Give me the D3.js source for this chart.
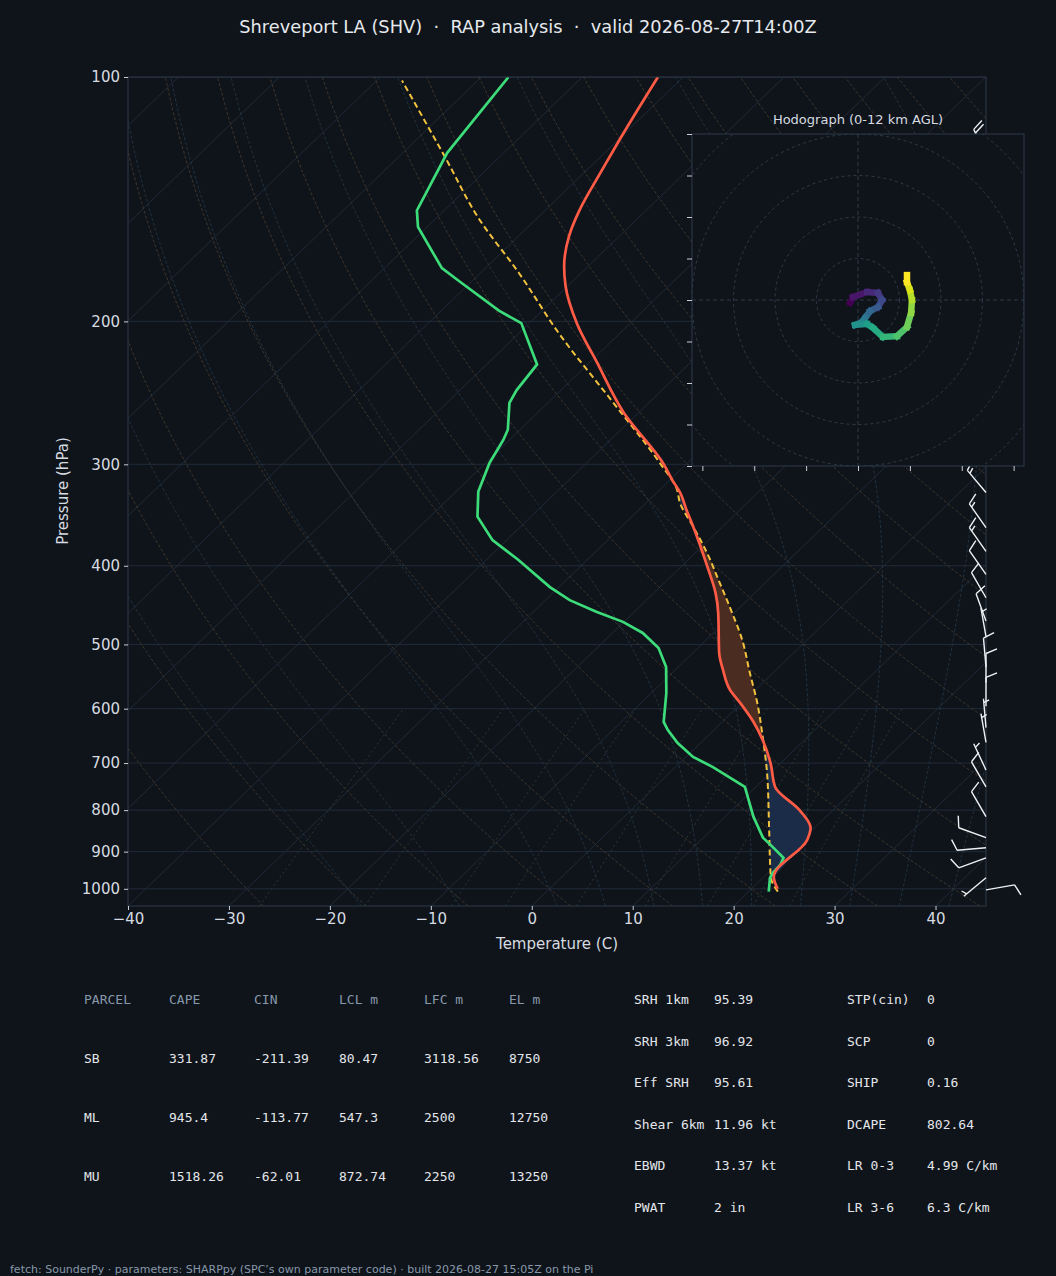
<!DOCTYPE html>
<html>
<head>
<meta charset="utf-8">
<script src="https://cdn.jsdelivr.net/npm/d3@7"></script>
<style>
  body { margin: 0; background: #0f141a; }
  svg { display: block; }
  text { font-family: "DejaVu Sans", sans-serif; }
  .mono { font-family: "DejaVu Sans Mono", monospace; font-size: 13px; white-space: pre; }
</style>
</head>
<body>
<svg id="chart" width="1056" height="1276"></svg>
<script>
// sounding (hPa, C)
const tempP = [1000, 967, 870, 841, 800, 749, 700, 655, 623, 590, 569, 537, 512, 457, 432, 401, 358, 342, 325, 314, 300, 259, 225, 201, 181, 171, 157, 146, 131, 120, 100];
const tempT = [22.6, 21.0, 20.5, 19.6, 16.7, 11.9, 9.0, 5.8, 3.1, -0.2, -2.5, -5.3, -7.4, -11.6, -13.9, -17.4, -22.9, -25.2, -27.7, -29.7, -32.2, -41.5, -49.2, -55.3, -60.2, -62.4, -65.0, -66.6, -68.4, -69.8, -72.5];

const dewP = [1008, 969, 956, 934, 916, 888, 865, 815, 749, 708, 688, 661, 637, 623, 574, 533, 505, 484, 469, 456, 441, 425, 393, 372, 348, 324, 299, 280, 272, 252, 243, 226, 201, 194, 179, 172, 153, 146, 124, 100];
const dewT = [22.0, 20.7, 20.5, 20.4, 20.0, 17.8, 15.9, 12.8, 8.9, 3.7, 0.7, -2.3, -4.6, -5.8, -8.5, -11.2, -13.9, -17.0, -20.1, -23.7, -27.6, -30.9, -36.9, -41.4, -45.3, -47.8, -49.6, -50.6, -51.2, -53.8, -54.4, -55.0, -60.8, -64.3, -71.0, -74.3, -80.9, -82.7, -85.6, -87.3];

const parcelP = [1008, 967, 839, 728, 643, 590, 542, 494, 450, 420, 386, 358, 335, 321, 300, 252, 207, 174, 150, 125, 101];
const parcelT = [22.9, 20.7, 15.4, 10.1, 5.1, 1.5, -2.3, -6.4, -11.0, -14.5, -18.8, -22.9, -26.6, -28.5, -32.5, -43.5, -56.0, -66.3, -75.5, -85.6, -97.5];

// wind barbs: pressure, direction from (deg), speed (kt)
const barbP = [1003, 969, 916, 890, 865, 815, 749, 714, 660, 633, 596, 557, 533, 489, 468, 438, 410, 384, 359, 325, 301, 250, 200, 150, 125];
const barbDir = [80, 230, 250, 265, 290, 330, 330, 335, 350, 355, 0, 0, 355, 350, 340, 330, 325, 325, 325, 320, 325, 330, 330, 335, 335];
const barbSpd = [10, 5, 10, 10, 10, 10, 10, 5, 5, 5, 10, 10, 10, 5, 10, 10, 10, 15, 15, 15, 15, 15, 15, 20, 20];

// hodograph (kt)
const hodoU = [-1.9, -1.2, 2.2, 4.8, 5.8, 4.8, 2.9, 1.7, 1.0, -0.7, 2.2, 3.6, 6.0, 9.4, 11.8, 12.8, 13.0, 12.5, 11.8, 11.8];
const hodoV = [-0.7, 0.7, 1.9, 1.7, 0, -1.7, -2.7, -4.3, -5.3, -6.0, -5.8, -6.7, -8.9, -8.7, -6.5, -3.1, 0, 2.4, 4.3, 6.0];

const pTicks = [100, 200, 300, 400, 500, 600, 700, 800, 900, 1000];
const tTicks = [-40, -30, -20, -10, 0, 10, 20, 30, 40];

const parcelHeader = ['PARCEL', 'CAPE', 'CIN', 'LCL m', 'LFC m', 'EL m'];
const parcelRows = [
  ['SB', '331.87', '-211.39', '80.47', '3118.56', '8750'],
  ['ML', '945.4', '-113.77', '547.3', '2500', '12750'],
  ['MU', '1518.26', '-62.01', '872.74', '2250', '13250']
];
const indexLeft = [['SRH 1km', '95.39'], ['SRH 3km', '96.92'], ['Eff SRH', '95.61'], ['Shear 6km', '11.96 kt'], ['EBWD', '13.37 kt'], ['PWAT', '2 in']];
const indexRight = [['STP(cin)', '0'], ['SCP', '0'], ['SHIP', '0.16'], ['DCAPE', '802.64'], ['LR 0-3', '4.99 C/km'], ['LR 3-6', '6.3 C/km']];

const svg = d3.select('#chart');
const L = 128, R = 986, T = 77, B = 906;
const y = d3.scaleLog().domain([1050, 100]).range([B, T]);
const xT = d3.scaleLinear().domain([-40, 45]).range([L, R]);
const skew = (R - L) / (B - T);
const sx = (t, p) => xT(t) + (B - y(p)) * skew;

svg.append('rect').attr('width', 1056).attr('height', 1276).attr('fill', '#0f141a');

svg.append('text').attr('x', 528).attr('y', 33).attr('text-anchor', 'middle')
  .attr('fill', '#e6e9ee').attr('font-size', 17.8)
  .text('Shreveport LA (SHV)  ·  RAP analysis  ·  valid 2026-08-27T14:00Z')
  .style('white-space', 'pre');

svg.append('clipPath').attr('id', 'plot').append('rect')
  .attr('x', L).attr('y', T).attr('width', R - L).attr('height', B - T);
const g = svg.append('g').attr('clip-path', 'url(#plot)');

const line = d3.line().x(d => sx(d[1], d[0])).y(d => y(d[0]));
const smooth = d3.line().x(d => sx(d[1], d[0])).y(d => y(d[0])).curve(d3.curveMonotoneY);
const pGrid = d3.range(1050, 99, -10);

// isobars
g.selectAll('.isobar').data(pTicks).join('line')
  .attr('x1', L).attr('x2', R).attr('y1', d => y(d)).attr('y2', d => y(d))
  .attr('stroke', '#253141').attr('stroke-width', 0.8);

// isotherms
g.selectAll('.iso').data(d3.range(-120, 50, 10)).join('path')
  .attr('d', t => line([[1050, t], [100, t]]))
  .attr('stroke', '#233040').attr('stroke-width', 0.8).attr('fill', 'none');

// dry adiabats
g.selectAll('.dry').data(d3.range(-30, 200, 10)).join('path')
  .attr('d', th => line(pGrid.map(p => [p, (th + 273.15) * Math.pow(p / 1000, 0.2857) - 273.15])))
  .attr('stroke', '#4b3e2e').attr('stroke-width', 0.8).attr('stroke-dasharray', '3,2').attr('fill', 'none');

// moist adiabats
function moist(t0) {
  const out = [];
  const step = (tk, p, dp) => {
    const tc = tk - 273.15;
    const es = 6.112 * Math.exp(17.67 * tc / (tc + 243.5));
    const rs = 0.622 * es / (p - es);
    const num = 287 * tk + 2.5e6 * rs;
    const den = 1004 + 2.5e6 * 2.5e6 * rs * 0.622 / (287 * tk * tk);
    return tk + num / den / p * dp;
  };
  let tk = t0 + 273.15;
  for (let p = 1000; p > 100; p -= 5) { out.push([p, tk - 273.15]); tk = step(tk, p, -5); }
  out.push([100, tk - 273.15]);
  let tb = t0 + 273.15, lower = [];
  for (let p = 1000; p < 1050; p += 5) { tb = step(tb, p, 5); lower.push([p + 5, tb - 273.15]); }
  return lower.reverse().concat(out);
}
g.selectAll('.moist').data([-20, -10, 0, 5, 10, 15, 20, 25, 30, 35, 40]).join('path')
  .attr('d', t => line(moist(t)))
  .attr('stroke', '#24394a').attr('stroke-width', 0.8).attr('stroke-dasharray', '3,2').attr('fill', 'none');

// mixing ratio lines
const mixW = [0.4, 1, 2, 3, 5, 8, 12, 16, 20];
g.selectAll('.mix').data(mixW).join('path')
  .attr('d', w => line(d3.range(1050, 599, -10).map(p => {
    const e = w * p / (622 + w), a = Math.log(e / 6.112);
    return [p, 243.5 * a / (17.67 - a)];
  })))
  .attr('stroke', '#2a4436').attr('stroke-width', 0.8).attr('stroke-dasharray', '2,3').attr('fill', 'none');

// interpolation in log-p
function interp(ps, ts, q) {
  for (let i = 0; i < ps.length - 1; i++) {
    if (q <= ps[i] && q >= ps[i + 1]) {
      const f = (Math.log(ps[i]) - Math.log(q)) / (Math.log(ps[i]) - Math.log(ps[i + 1]));
      return ts[i] + f * (ts[i + 1] - ts[i]);
    }
  }
  return null;
}

// CAPE / CIN shading
const fillP = d3.range(1000, 329, -1);
let runs = [], cur = null;
fillP.forEach(p => {
  const a = interp(tempP, tempT, p), b = interp(parcelP, parcelT, p);
  const sign = b > a;
  if (!cur || cur.sign !== sign) {
    if (cur) cur.pts.push({ p, a, b });
    cur = { sign, pts: [] }; runs.push(cur);
  }
  cur.pts.push({ p, a, b });
});
const area = d3.area().y(d => y(d.p)).x0(d => sx(d.a, d.p)).x1(d => sx(d.b, d.p));
g.selectAll('.shade').data(runs).join('path')
  .attr('d', r => area(r.pts))
  .attr('fill', r => r.sign ? '#4e2d22' : '#1b2d4b').attr('opacity', 0.95);

// profiles
const prof = (ps, ts) => ps.map((p, i) => [p, ts[i]]);
g.append('path').attr('d', smooth(prof(parcelP, parcelT))).attr('fill', 'none')
  .attr('stroke', '#f2c23e').attr('stroke-width', 2).attr('stroke-dasharray', '6,3.5');
g.append('path').attr('d', line(prof(dewP, dewT))).attr('fill', 'none')
  .attr('stroke', '#3ddc7a').attr('stroke-width', 2.7);
g.append('path').attr('d', smooth(prof(tempP, tempT))).attr('fill', 'none')
  .attr('stroke', '#ff5b45').attr('stroke-width', 2.7);

// frame and axes
svg.append('rect').attr('x', L).attr('y', T).attr('width', R - L).attr('height', B - T)
  .attr('fill', 'none').attr('stroke', '#2e3a48');

const styleAxis = a => {
  a.select('.domain').remove();
  a.selectAll('line').attr('stroke', '#c8ced6');
  a.selectAll('text').attr('fill', '#d6dbe1').attr('font-size', 15)
    .attr('font-family', '"DejaVu Sans", sans-serif');
};
svg.append('g').attr('transform', `translate(0,${B})`)
  .call(d3.axisBottom(xT).tickValues(tTicks).tickSize(4).tickPadding(3))
  .call(styleAxis);
svg.append('g').attr('transform', `translate(${L},0)`)
  .call(d3.axisLeft(y).tickValues(pTicks).tickFormat(d3.format('d')).tickSize(4).tickPadding(4))
  .call(styleAxis);

svg.append('text').attr('x', 557).attr('y', 949).attr('text-anchor', 'middle')
  .attr('fill', '#d6dbe1').attr('font-size', 15).text('Temperature (C)');
svg.append('text').attr('transform', 'translate(68,491) rotate(-90)').attr('text-anchor', 'middle')
  .attr('fill', '#d6dbe1').attr('font-size', 15).text('Pressure (hPa)');

// wind barbs
const barbs = svg.append('g').attr('stroke', '#eef1f4').attr('stroke-width', 1.4).attr('fill', 'none');
barbP.forEach((p, i) => {
  const d = barbDir[i] * Math.PI / 180;
  const ux = Math.sin(d), uy = -Math.cos(d);
  const px = -uy, py = ux; // clockwise perpendicular on screen
  const x0 = R, y0 = y(p), len = 29;
  const tx = x0 + ux * len, ty = y0 + uy * len;
  let path = `M${x0},${y0}L${tx},${ty}`;
  let spd = barbSpd[i], k = 0;
  const feather = (frac, pos) => {
    const bx = tx - ux * pos, by = ty - uy * pos;
    const bl = 12 * frac;
    path += `M${bx},${by}L${bx + (px * 0.92 + ux * 0.38) * bl},${by + (py * 0.92 + uy * 0.38) * bl}`;
  };
  while (spd >= 10) { feather(1, k * 4); spd -= 10; k++; }
  if (spd >= 5) feather(0.5, (k === 0 ? 1 : k) * 4);
  barbs.append('path').attr('d', path);
});

// hodograph inset
const hx0 = 692, hy0 = 134, hs = 332, hc = [858, 300], ring = 41.5;
const hodo = svg.append('g');
hodo.append('rect').attr('x', hx0).attr('y', hy0).attr('width', hs).attr('height', hs)
  .attr('fill', '#0f141a').attr('stroke', '#2e3a48');
hodo.append('text').attr('x', 858).attr('y', 124).attr('text-anchor', 'middle')
  .attr('fill', '#d6dbe1').attr('font-size', 13).text('Hodograph (0-12 km AGL)');
hodo.append('clipPath').attr('id', 'hclip').append('rect')
  .attr('x', hx0).attr('y', hy0).attr('width', hs).attr('height', hs);
const hg = hodo.append('g').attr('clip-path', 'url(#hclip)');
hg.selectAll('circle').data([1, 2, 3, 4, 5]).join('circle')
  .attr('cx', hc[0]).attr('cy', hc[1]).attr('r', k => k * ring)
  .attr('fill', 'none').attr('stroke', '#2e3a48').attr('stroke-dasharray', '3,3');
hg.append('line').attr('x1', hx0).attr('x2', hx0 + hs).attr('y1', hc[1]).attr('y2', hc[1])
  .attr('stroke', '#2e3a48').attr('stroke-dasharray', '4,3');
hg.append('line').attr('y1', hy0).attr('y2', hy0 + hs).attr('x1', hc[0]).attr('x2', hc[0])
  .attr('stroke', '#2e3a48').attr('stroke-dasharray', '4,3');

const hv = d3.scaleLinear().domain([-40, 40]).range([hy0 + hs, hy0]);
const hxTick = d3.scaleLinear().domain([-32, 32]).range([hx0, hx0 + hs]);
hodo.append('g').attr('transform', `translate(${hx0},0)`)
  .call(d3.axisLeft(hv).tickValues(d3.range(-40, 41, 10)).tickSize(5).tickFormat(''))
  .call(a => { a.select('.domain').remove(); a.selectAll('line').attr('stroke', '#c8ced6'); });
hodo.append('g').attr('transform', `translate(0,${hy0 + hs})`)
  .call(d3.axisBottom(hxTick).tickValues(d3.range(-30, 31, 10)).tickSize(5).tickFormat(''))
  .call(a => { a.select('.domain').remove(); a.selectAll('line').attr('stroke', '#c8ced6'); });

const hpx = u => hc[0] + u * ring / 10, hpy = v => hc[1] - v * ring / 10;
const nSeg = hodoU.length - 1;
for (let i = 0; i < nSeg; i++) {
  hg.append('line')
    .attr('x1', hpx(hodoU[i])).attr('y1', hpy(hodoV[i]))
    .attr('x2', hpx(hodoU[i + 1])).attr('y2', hpy(hodoV[i + 1]))
    .attr('stroke', d3.interpolateViridis(i / (nSeg - 1)))
    .attr('stroke-width', 6.5).attr('stroke-linecap', 'square');
}

// parameter tables
const colX = [84, 169, 254, 339, 424, 509];
const tbl = svg.append('g');
parcelHeader.forEach((h, j) => tbl.append('text').attr('class', 'mono')
  .attr('x', colX[j]).attr('y', 1004).attr('fill', '#8898ab').text(h));
parcelRows.forEach((row, i) => row.forEach((v, j) => tbl.append('text').attr('class', 'mono')
  .attr('x', colX[j]).attr('y', 1063 + i * 59).attr('fill', '#e3e6ea').text(v)));
[[indexLeft, 634, 714], [indexRight, 847, 927]].forEach(([list, xa, xb]) => {
  list.forEach(([k, v], i) => {
    const yy = 1004 + i * 41.6;
    tbl.append('text').attr('class', 'mono').attr('x', xa).attr('y', yy).attr('fill', '#e3e6ea').text(k);
    tbl.append('text').attr('class', 'mono').attr('x', xb).attr('y', yy).attr('fill', '#e3e6ea').text(v);
  });
});

svg.append('text').attr('x', 10).attr('y', 1273).attr('fill', '#8898ab').attr('font-size', 11)
  .text('fetch: SounderPy · parameters: SHARPpy (SPC\u2019s own parameter code) · built 2026-08-27 15:05Z on the Pi');
</script>
</body>
</html>
